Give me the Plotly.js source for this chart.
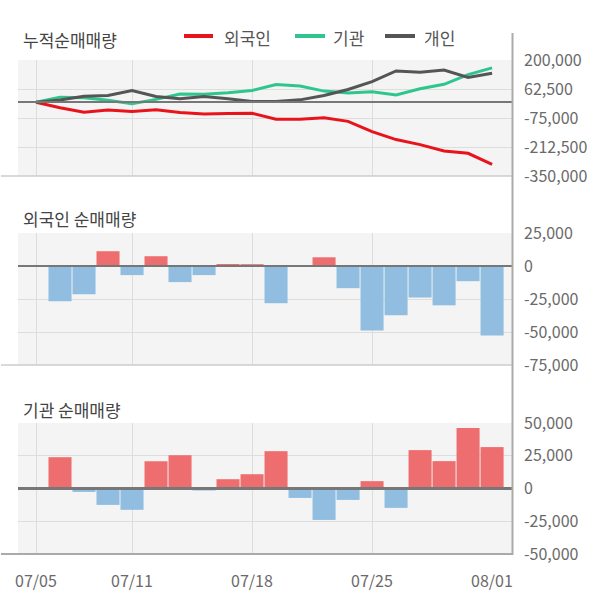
<!DOCTYPE html>
<html>
<head>
<meta charset="utf-8">
<script src="https://cdn.plot.ly/plotly-3.0.1.min.js"></script>
<style>html,body{margin:0;padding:0;background:#fff;}#chart{width:600px;height:604px;}</style>
</head>
<body>
<div id="chart"></div>
<script>
// ---- data ----
var dates = ['07/05','07/06','07/07','07/10','07/11','07/12','07/13','07/14','07/17','07/18',
             '07/19','07/20','07/21','07/24','07/25','07/26','07/27','07/28','07/31','08/01'];
var tickDates = ['07/05','07/11','07/18','07/25','08/01'];

// daily net buying
var foreignDaily = [0,-26700,-21400,11200,-6900,7400,-12200,-6900,1500,1400,
                    -28200,0,6600,-16800,-48900,-37400,-23900,-29800,-11500,-52700];
var instDaily    = [0,23900,-2600,-12500,-16300,20800,25400,-1500,7100,10900,
                    28500,-7200,-24000,-8700,5600,-14800,29300,20900,46100,31600];

// cumulative net buying
var foreignCum = [0,-26700,-48100,-36900,-43800,-36400,-48600,-55500,-54000,-52600,
                  -80800,-80800,-74200,-91000,-139900,-177300,-201200,-231000,-242500,-295200];
var instCum    = [0,23900,21300,8800,-7500,13300,38700,37200,44300,55200,
                  83700,76500,52500,43800,49400,34600,63900,84800,130900,162500];
var indivCum   = [0,10000,28000,32000,55000,27000,16000,27000,16000,3000,
                  3000,11000,32000,60000,97000,148000,142000,152000,117000,137000];

var cumTicks = [200000,62500,-75000,-212500,-350000];
var forTicks = [25000,0,-25000,-50000,-75000];
var instTicks = [50000,25000,0,-25000,-50000];

// ---- helpers ----
function fmt(v){ return v.toLocaleString('en-US'); }
function barColors(arr){ return arr.map(function(v){ return v >= 0 ? '#ee6d6e' : '#90bde0'; }); }
var xIdx = dates.map(function(d,i){ return i; });
var tickIdx = tickDates.map(function(d){ return dates.indexOf(d); });
var gridIdx = tickIdx.slice(0, 4);

var KR = '"Noto Sans CJK KR", "Noto Sans", sans-serif';
var W = 600, H = 604, ML = 18, MR = 88, MT = 0, MB = 50;
var PW = W - ML - MR, PH = H - MT - MB;
function px(x){ return (x - ML) / PW; }
function py(y){ return 1 - (y - MT) / PH; }

var traces = [
  {x: xIdx, y: foreignCum, type: 'scatter', mode: 'lines', xaxis: 'x', yaxis: 'y',
   line: {color: '#e8141b', width: 3}, hoverinfo: 'none', name: '외국인'},
  {x: xIdx, y: instCum, type: 'scatter', mode: 'lines', xaxis: 'x', yaxis: 'y',
   line: {color: '#2ec68e', width: 3}, hoverinfo: 'none', name: '기관'},
  {x: xIdx, y: indivCum, type: 'scatter', mode: 'lines', xaxis: 'x', yaxis: 'y',
   line: {color: '#555555', width: 3}, hoverinfo: 'none', name: '개인'},
  {x: xIdx, y: foreignDaily, type: 'bar', xaxis: 'x2', yaxis: 'y2',
   marker: {color: barColors(foreignDaily), line: {width: 0}}, hoverinfo: 'none'},
  {x: xIdx, y: instDaily, type: 'bar', xaxis: 'x3', yaxis: 'y3',
   marker: {color: barColors(instDaily), line: {width: 0}}, hoverinfo: 'none'}
];

var xRange = [-0.75, 19.83];
function xAx(anchor){
  return {anchor: anchor, domain: [0,1], range: xRange, tickvals: gridIdx,
          showticklabels: false, ticks: '', showgrid: true, gridcolor: '#dddddd', gridwidth: 1,
          zeroline: false, showline: false, fixedrange: true};
}
function yAx(dom, rng, tv){
  return {domain: dom, range: rng, side: 'right', tickvals: tv, ticktext: tv.map(fmt),
          showgrid: true, gridcolor: '#dddddd', gridwidth: 1,
          zeroline: true, zerolinecolor: '#777777', zerolinewidth: 2.5, zerolinelayer: 'above traces',
          ticks: '', ticklabelstandoff: 11, showline: false, fixedrange: true,
          tickfont: {family: KR, size: 16, color: '#6a6a6a'}};
}

var d1 = [py(176), py(60)], d2 = [py(365), py(233)], d3 = [py(554), py(423)];

var shapes = [
  // chart bottom borders
  {type: 'line', xref: 'paper', yref: 'paper', x0: px(1), x1: 1, y0: d1[0], y1: d1[0], line: {color: '#cccccc', width: 1.5}},
  {type: 'line', xref: 'paper', yref: 'paper', x0: px(1), x1: 1, y0: d2[0], y1: d2[0], line: {color: '#cccccc', width: 1.5}},
  {type: 'line', xref: 'paper', yref: 'paper', x0: px(1), x1: 1, y0: d3[0], y1: d3[0], line: {color: '#aaaaaa', width: 2}},
  // right border
  {type: 'line', xref: 'paper', yref: 'paper', x0: px(512.5), x1: px(512.5), y0: py(555), y1: py(33), line: {color: '#aaaaaa', width: 2}},
  // legend swatches
  {type: 'line', xref: 'paper', yref: 'paper', x0: px(184), x1: px(213), y0: py(36), y1: py(36), line: {color: '#e8141b', width: 4}},
  {type: 'line', xref: 'paper', yref: 'paper', x0: px(295), x1: px(325), y0: py(36), y1: py(36), line: {color: '#2ec68e', width: 4}},
  {type: 'line', xref: 'paper', yref: 'paper', x0: px(385), x1: px(415), y0: py(36), y1: py(36), line: {color: '#555555', width: 4}}
];

function ann(text, x, y, size, color){
  return {text: text, xref: 'paper', yref: 'paper', x: x, y: y, xanchor: 'left', yanchor: 'middle',
          showarrow: false, font: {family: KR, size: size, color: color}};
}
var annotations = [
  ann('누적순매매량', px(21), py(39), 17, '#444444'),
  ann('외국인', px(222), py(38), 17, '#555555'),
  ann('기관', px(331), py(38), 17, '#555555'),
  ann('개인', px(422), py(38), 17, '#555555'),
  ann('외국인 순매매량', px(21), py(218), 17, '#444444'),
  ann('기관 순매매량', px(21), py(409), 17, '#444444')
];
tickDates.forEach(function(d, i){
  annotations.push({text: d, xref: 'x3', yref: 'paper', x: tickIdx[i], y: py(580),
                    xanchor: 'center', yanchor: 'middle', showarrow: false,
                    font: {family: KR, size: 16, color: '#6a6a6a'}});
});

var layout = {
  width: W, height: H,
  margin: {l: ML, r: MR, t: MT, b: MB, pad: 0},
  paper_bgcolor: '#ffffff', plot_bgcolor: '#f4f4f4',
  showlegend: false, bargap: 0.04,
  xaxis: xAx('y'), xaxis2: xAx('y2'), xaxis3: xAx('y3'),
  yaxis: yAx(d1, [-350000, 200000], cumTicks),
  yaxis2: yAx(d2, [-75000, 25000], forTicks),
  yaxis3: yAx(d3, [-50000, 50000], instTicks),
  shapes: shapes, annotations: annotations,
  font: {family: KR}
};

Plotly.newPlot('chart', traces, layout, {displayModeBar: false, staticPlot: true});
</script>
</body>
</html>
